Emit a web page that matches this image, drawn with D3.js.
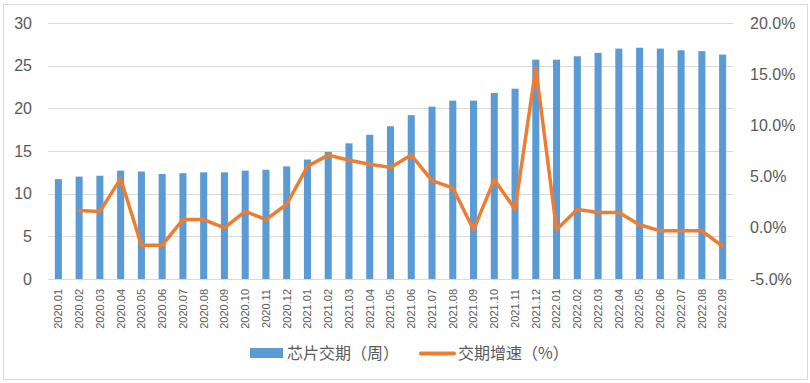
<!DOCTYPE html>
<html><head><meta charset="utf-8">
<script src="https://cdn.jsdelivr.net/npm/d3@7"></script>
<style>
html,body{margin:0;padding:0;background:#fff;}
svg{display:block;font-family:"Liberation Sans","Noto Sans",Arial,sans-serif;}
</style></head>
<body>
<script>
const categories = ["2020.01","2020.02","2020.03","2020.04","2020.05","2020.06","2020.07","2020.08","2020.09","2020.10","2020.11","2020.12",
"2021.01","2021.02","2021.03","2021.04","2021.05","2021.06","2021.07","2021.08","2021.09","2021.10","2021.11","2021.12",
"2022.01","2022.02","2022.03","2022.04","2022.05","2022.06","2022.07","2022.08","2022.09"];
const leadTimeWeeks = [11.7,12.0,12.1,12.7,12.6,12.3,12.4,12.5,12.5,12.7,12.8,13.2,
14.0,14.9,15.9,16.9,17.9,19.2,20.2,20.9,20.9,21.8,22.3,25.7,
25.7,26.1,26.5,27.0,27.1,27.0,26.8,26.7,26.3];
const growthPct = [null,1.7,1.6,4.8,-1.7,-1.7,0.8,0.8,0.0,1.6,0.8,2.3,
6.0,7.1,6.6,6.2,5.9,7.1,4.6,3.9,-0.2,4.7,1.8,15.6,
-0.2,1.8,1.5,1.5,0.3,-0.3,-0.3,-0.3,-1.8];
const leftTicks = [0,5,10,15,20,25,30];
const rightTicks = [-5,0,5,10,15,20];
const seriesNames = ["芯片交期（周）","交期增速（%）"];

(function(){
const W=810,H=383;
const svg=d3.select("body").append("svg").attr("width",W).attr("height",H);
svg.append("rect").attr("x",3.5).attr("y",4.5).attr("width",804).attr("height",375)
  .attr("fill","#fff").attr("stroke","#D9D9D9");

const pl=48,pr=733,pt=23,pb=279;
const x=d3.scaleBand().domain(categories).range([pl,pr]).paddingInner(0.66).paddingOuter(0.33);
const yL=d3.scaleLinear().domain([0,30]).range([pb,pt]);
const yR=d3.scaleLinear().domain([-5,20]).range([pb,pt]);

// gridlines
svg.append("g").selectAll("line").data(leftTicks).join("line")
  .attr("x1",pl).attr("x2",pr).attr("y1",d=>Math.round(yL(d))+0.5).attr("y2",d=>Math.round(yL(d))+0.5)
  .attr("stroke","#D9D9D9").attr("stroke-width",1);

// bars
svg.append("g").selectAll("rect").data(leadTimeWeeks).join("rect")
  .attr("x",(d,i)=>x(categories[i])).attr("width",x.bandwidth())
  .attr("y",d=>yL(d)).attr("height",d=>yL(0)-yL(d)).attr("fill","#5B9BD5");

// line
const line=d3.line().defined(d=>d!=null).x((d,i)=>x(categories[i])+x.bandwidth()/2).y(d=>yR(d));
svg.append("path").datum(growthPct).attr("d",line).attr("fill","none")
  .attr("stroke","#ED7D31").attr("stroke-width",3.5).attr("stroke-linejoin","round").attr("stroke-linecap","round");

// left axis
const axL=d3.axisLeft(yL).tickValues(leftTicks).tickSize(0).tickPadding(0);
const gL=svg.append("g").attr("transform",`translate(32,0)`).call(axL);
gL.select(".domain").remove();
gL.selectAll("text").attr("font-size",16).attr("fill","#595959").attr("font-family","Liberation Sans, Arial, sans-serif");

// right axis
const axR=d3.axisRight(yR).tickValues(rightTicks).tickSize(0).tickPadding(0).tickFormat(d=>d.toFixed(1)+"%");
const gR=svg.append("g").attr("transform",`translate(750,0)`).call(axR);
gR.select(".domain").remove();
gR.selectAll("text").attr("font-size",16).attr("fill","#595959").attr("font-family","Liberation Sans, Arial, sans-serif");

// x axis
const axX=d3.axisBottom(x).tickSize(0).tickPadding(0);
const gX=svg.append("g").attr("transform",`translate(0,${pb})`).call(axX);
gX.select(".domain").remove();
gX.selectAll("text").attr("font-size",11).attr("fill","#595959")
  .attr("text-anchor","end").attr("dy","0.35em")
  .attr("transform","translate(0,10) rotate(-90)").attr("x",0).attr("y",0);

// legend
const lg=svg.append("g").attr("font-size",16).attr("fill","#595959");
lg.append("rect").attr("x",250).attr("y",348).attr("width",33).attr("height",10).attr("fill","#5B9BD5");
lg.append("text").attr("x",287).attr("y",353).attr("dy","0.35em").attr("fill","#595959")
  .attr("font-family","Noto Sans CJK SC, sans-serif").text(seriesNames[0]);
lg.append("line").attr("x1",421).attr("x2",454).attr("y1",353.5).attr("y2",353.5)
  .attr("stroke","#ED7D31").attr("stroke-width",4).attr("stroke-linecap","round");
lg.append("text").attr("x",458).attr("y",353).attr("dy","0.35em").attr("fill","#595959")
  .attr("font-family","Noto Sans CJK SC, sans-serif").text(seriesNames[1]);
})();
</script>
</body></html>
